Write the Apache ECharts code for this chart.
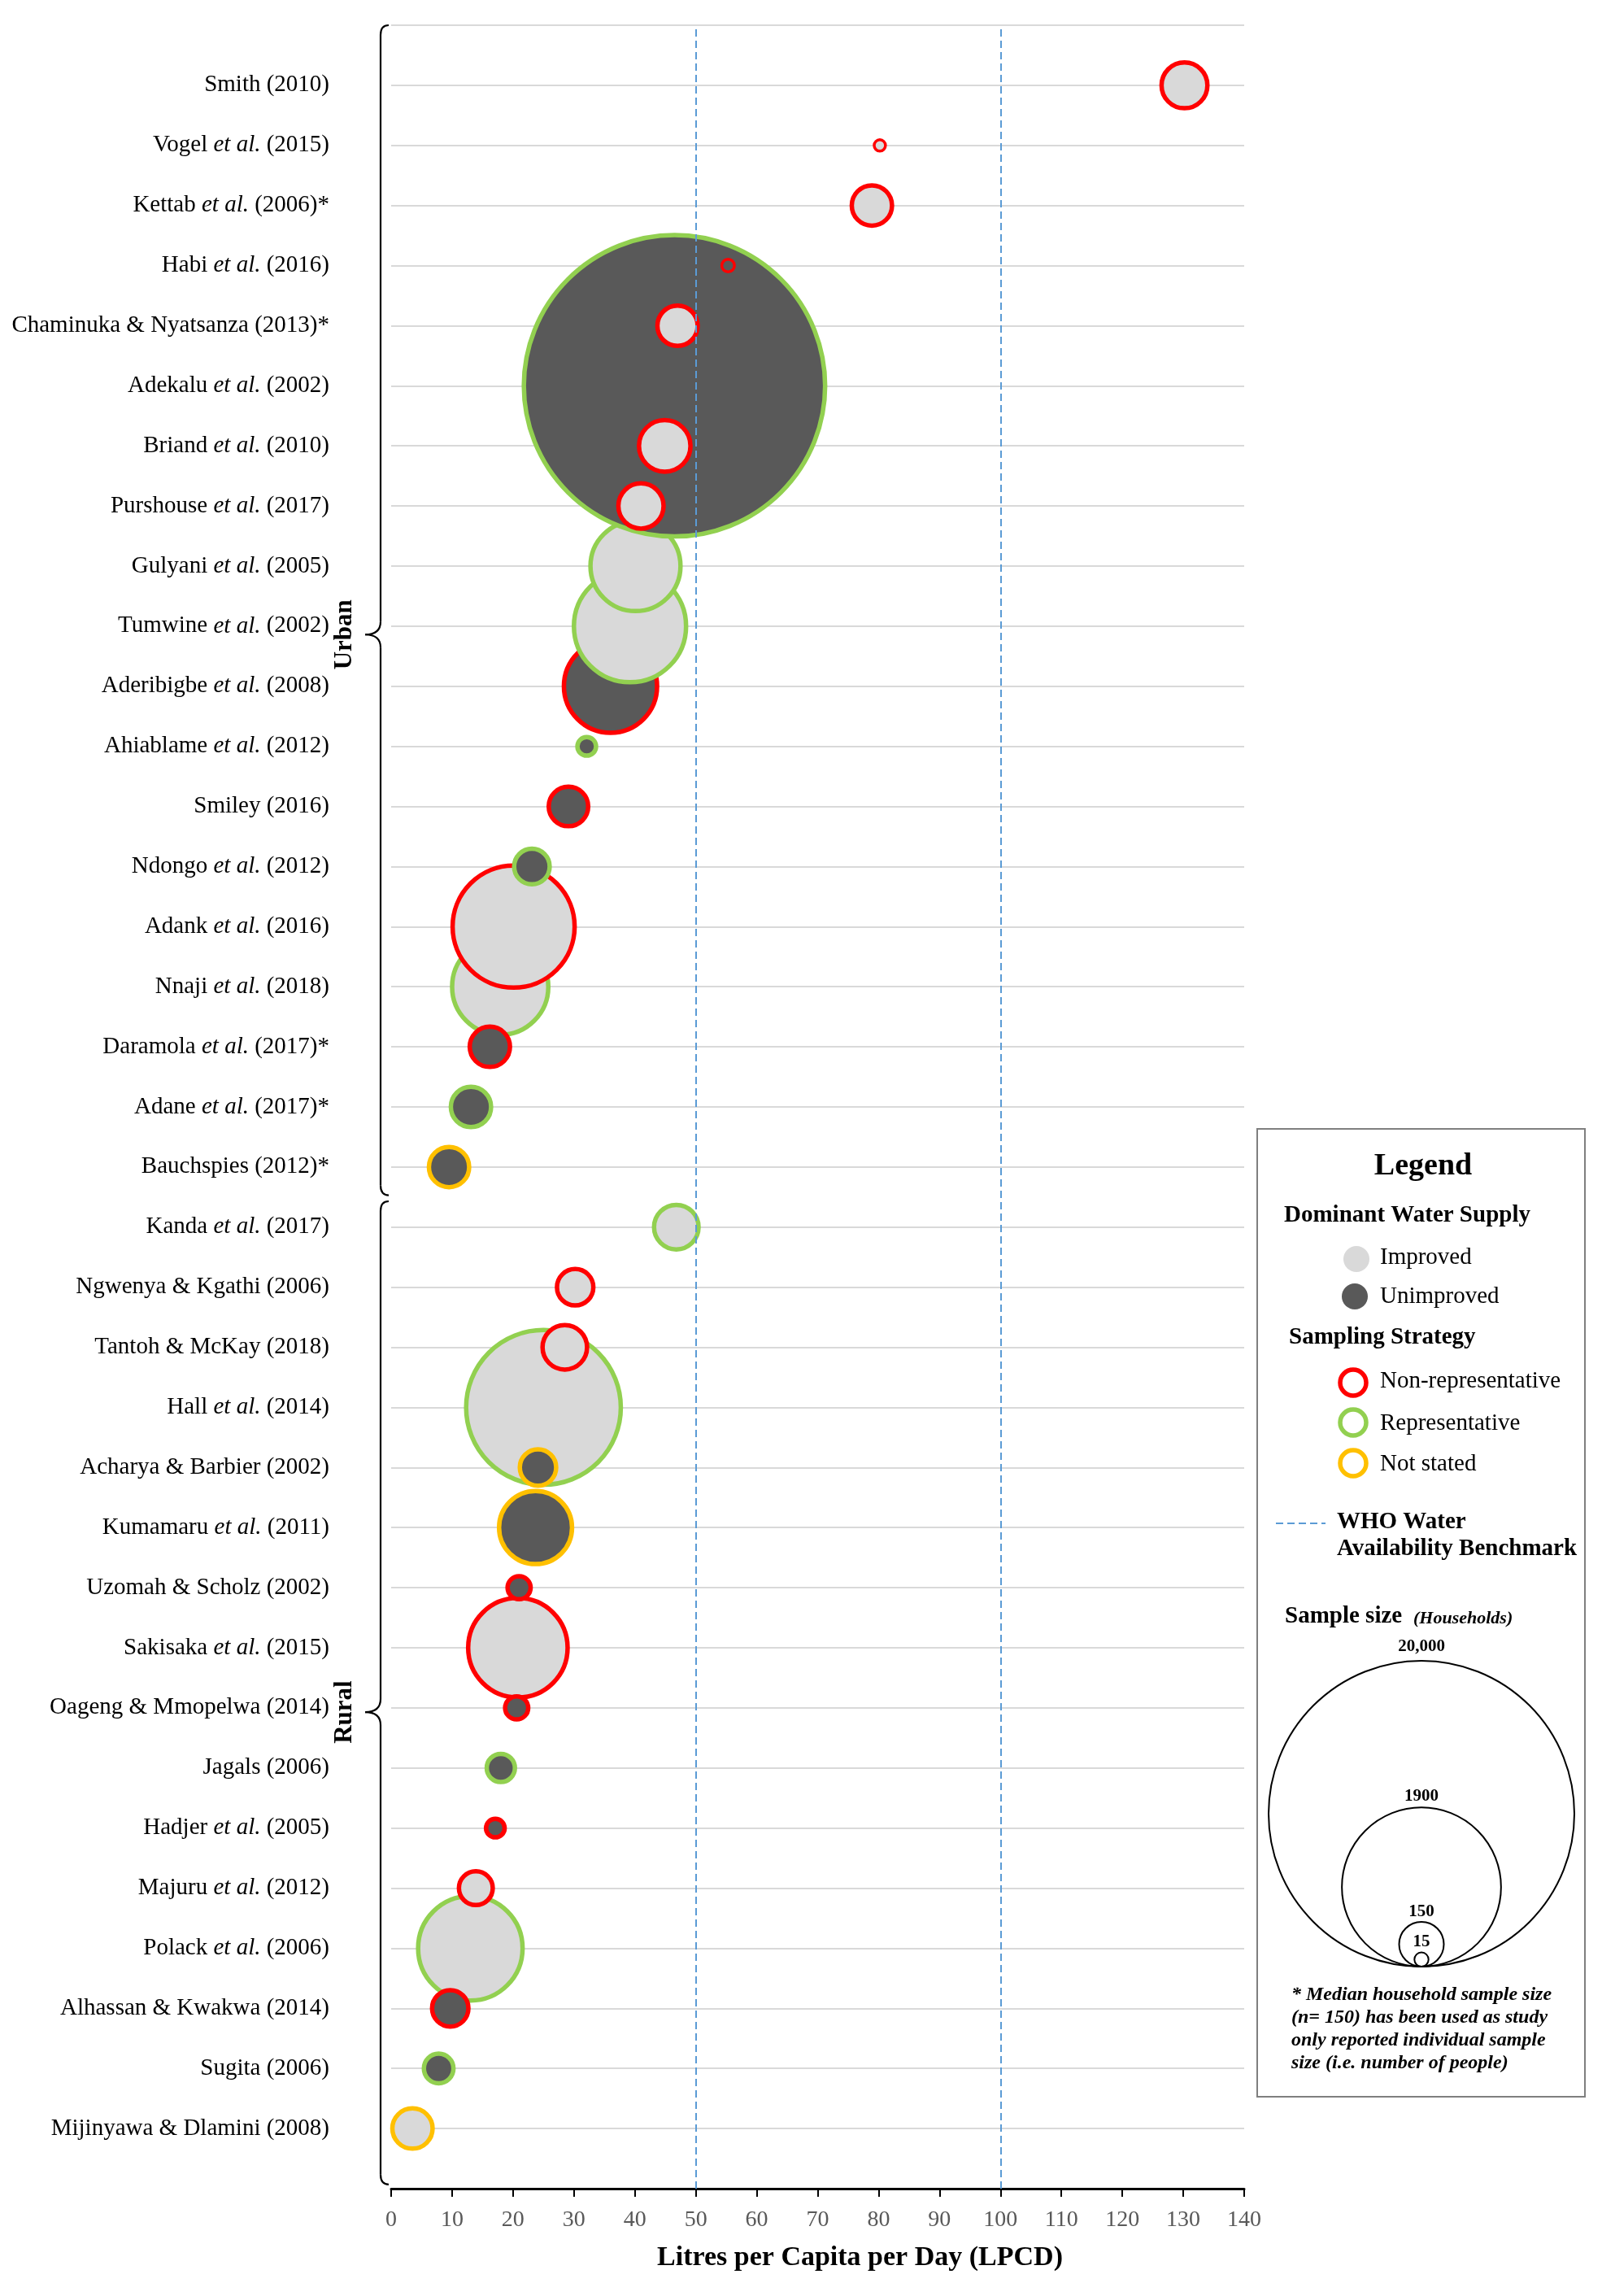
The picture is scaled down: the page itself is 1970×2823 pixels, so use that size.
<!DOCTYPE html>
<html>
<head>
<meta charset="utf-8">
<script src="https://cdn.jsdelivr.net/npm/echarts@6/dist/echarts.min.js"></script>
<style>
  html, body { margin: 0; padding: 0; background: #fff; }
  #chart { width: 1970px; height: 2823px; }
</style>
</head>
<body>
<div id="chart"></div>
<script>
// Studies, top of the chart to bottom
const studies = [
  'Smith (2010)', 'Vogel et al. (2015)', 'Kettab et al. (2006)*', 'Habi et al. (2016)',
  'Chaminuka & Nyatsanza (2013)*', 'Adekalu et al. (2002)', 'Briand et al. (2010)',
  'Purshouse et al. (2017)', 'Gulyani et al. (2005)', 'Tumwine et al. (2002)',
  'Aderibigbe et al. (2008)', 'Ahiablame et al. (2012)', 'Smiley (2016)', 'Ndongo et al. (2012)',
  'Adank et al. (2016)', 'Nnaji et al. (2018)', 'Daramola et al. (2017)*', 'Adane et al. (2017)*',
  'Bauchspies (2012)*', 'Kanda et al. (2017)', 'Ngwenya & Kgathi (2006)', 'Tantoh & McKay (2018)',
  'Hall et al. (2014)', 'Acharya & Barbier (2002)', 'Kumamaru et al. (2011)', 'Uzomah & Scholz (2002)',
  'Sakisaka et al. (2015)', 'Oageng & Mmopelwa (2014)', 'Jagals (2006)', 'Hadjer et al. (2005)',
  'Majuru et al. (2012)', 'Polack et al. (2006)', 'Alhassan & Kwakwa (2014)', 'Sugita (2006)',
  'Mijinyawa & Dlamini (2008)'
];

// Litres per capita per day
const lpcd = [
  130.2, 80.2, 78.9, 55.3, 47.0, 46.5, 44.9, 41.0, 40.1, 39.2,
  36.0, 32.1, 29.1, 23.1, 20.1, 17.9, 16.2, 13.1, 9.5, 46.8,
  30.2, 28.5, 25.0, 24.1, 23.7, 21.0, 20.8, 20.6, 18.0, 17.1,
  13.9, 13.0, 9.7, 7.8, 3.5
];

// Sample size (households)
const households = [
  190, 15, 150, 18, 150, 20000, 235, 185, 670, 1020,
  715, 40, 145, 120, 1200, 760, 150, 150, 150, 180,
  125, 180, 1900, 125, 450, 57, 810, 57, 80, 40,
  110, 890, 125, 87, 150
];

// Dominant water supply: I = improved, U = unimproved
const supply = [
  'I', 'I', 'I', 'U', 'I', 'U', 'I', 'I', 'I', 'I',
  'U', 'U', 'U', 'U', 'I', 'I', 'U', 'U', 'U', 'I',
  'I', 'I', 'I', 'U', 'U', 'U', 'I', 'U', 'U', 'U',
  'I', 'I', 'U', 'U', 'I'
];

// Sampling strategy: N = non-representative, R = representative, S = not stated
const sampling = [
  'N', 'N', 'N', 'N', 'N', 'R', 'N', 'N', 'R', 'R',
  'N', 'R', 'N', 'R', 'N', 'R', 'N', 'R', 'S', 'R',
  'N', 'N', 'R', 'S', 'S', 'N', 'N', 'N', 'R', 'N',
  'N', 'R', 'N', 'R', 'S'
];

const benchmarks = [50, 100];                 // WHO water availability benchmark
const sizeLegend = [20000, 1900, 150, 15];    // sample size key
const regions = ['Urban', 'Rural'];
const regionSpans = [[36, 16.53, 25.86], [16.43, 0.07, 7.93]]; // top, bottom, brace tip (row units)

const SERIF = "'Liberation Serif', 'DejaVu Serif', serif";
const fills = { I: '#D9D9D9', U: '#595959' };
const rings = { N: '#FF0000', R: '#92D050', S: '#FFC000' };

// bubble area follows household count, the biggest bubble is capped
function bubbleRadius(n) { return Math.min(2.245 * Math.sqrt(n), 188); }
function ringWidth(n) { return n < 30 ? 3.5 : 5.5; }
const rowValue = i => studies.length - i;

// big bubbles go underneath, then rows drawn bottom-up
const order = studies.map((_, i) => i).sort((a, b) => {
  const la = households[a] >= 600 ? 0 : 1;
  const lb = households[b] >= 600 ? 0 : 1;
  return la !== lb ? la - lb : b - a;
});

const bubbles = order.map(i => ({
  name: studies[i],
  value: [lpcd[i], rowValue(i), households[i]],
  symbolSize: 2 * bubbleRadius(households[i]) - ringWidth(households[i]),
  itemStyle: {
    color: fills[supply[i]],
    borderColor: rings[sampling[i]],
    borderWidth: ringWidth(households[i]),
    opacity: 1
  }
}));

const chart = echarts.init(document.getElementById('chart'));

chart.setOption({
  animation: false,
  backgroundColor: '#fff',
  grid: { left: 481, right: 440, top: 31, bottom: 132 },
  xAxis: {
    type: 'value',
    min: 0,
    max: 140,
    interval: 10,
    name: 'Litres per Capita per Day (LPCD)',
    nameLocation: 'middle',
    nameGap: 68,
    nameTextStyle: {
      fontFamily: SERIF, fontSize: 34, fontWeight: 'bold', color: '#000',
      padding: [0, 0, 0, 104]
    },
    splitLine: { show: false },
    axisLine: { lineStyle: { color: '#000', width: 3 } },
    axisTick: { show: true, length: 10, lineStyle: { color: '#000', width: 2 } },
    axisLabel: { margin: 25, fontFamily: SERIF, fontSize: 28, color: '#595959' }
  },
  yAxis: {
    type: 'value',
    min: 0,
    max: 36,
    interval: 1,
    axisLine: { show: false },
    axisTick: { show: false },
    splitLine: { lineStyle: { color: '#D9D9D9', width: 2 } },
    axisLabel: {
      margin: 76,
      fontFamily: SERIF,
      fontSize: 29,
      color: '#000',
      formatter: v => {
        const i = studies.length - v;
        if (v === 0 || i < 0 || i >= studies.length) return '';
        return studies[i].replace('et al.', '{it|et al.}');
      },
      rich: {
        it: { fontFamily: SERIF, fontSize: 29, fontStyle: 'italic', color: '#000' }
      }
    }
  },
  series: [
    {
      name: 'Studies',
      type: 'scatter',
      clip: false,
      data: bubbles,
      markLine: {
        silent: true,
        animation: false,
        symbol: ['none', 'none'],
        label: { show: false },
        lineStyle: { color: '#5B9BD5', width: 2, type: [9, 5] },
        data: benchmarks.map(v => ({ xAxis: v }))
      }
    }
  ]
});

// ---- braces for Urban / Rural ----
const px = (x, y) => chart.convertToPixel({ gridIndex: 0 }, [x, y]);
const graphics = [];
const x0 = px(0, 0)[0] - 13;
const xTip = x0 - 19;
const braceStyle = { fill: 'none', stroke: '#000', lineWidth: 2.2 };

function curve(x1, y1, cx, cy, x2, y2) {
  return {
    type: 'bezierCurve', silent: true,
    shape: { x1: x1, y1: y1, cpx1: cx, cpy1: cy, x2: x2, y2: y2 },
    style: braceStyle
  };
}
function seg(x1, y1, x2, y2) {
  return { type: 'line', silent: true, shape: { x1: x1, y1: y1, x2: x2, y2: y2 }, style: braceStyle };
}

regions.forEach((name, k) => {
  const [top, bottom, tip] = regionSpans[k];
  const yT = px(0, top)[1], yB = px(0, bottom)[1], yM = px(0, tip)[1];
  graphics.push(curve(x0 + 10, yT, x0, yT, x0, yT + 12));
  graphics.push(seg(x0, yT + 12, x0, yM - 16));
  graphics.push(curve(x0, yM - 16, x0, yM, xTip, yM));
  graphics.push(curve(xTip, yM, x0, yM, x0, yM + 16));
  graphics.push(seg(x0, yM + 16, x0, yB - 12));
  graphics.push(curve(x0, yB - 12, x0, yB, x0 + 10, yB));
  graphics.push({
    type: 'text', silent: true,
    x: 424, y: yM, rotation: Math.PI / 2,
    style: {
      text: name, fill: '#000', fontFamily: SERIF, fontSize: 31, fontWeight: 'bold',
      align: 'center', verticalAlign: 'middle', textAlign: 'center', textVerticalAlign: 'middle'
    }
  });
});

// ---- legend box ----
function txt(text, x, y, size, weight, style, align) {
  return {
    type: 'text', silent: true, x: x, y: y,
    style: {
      text: text, fill: '#000', fontFamily: SERIF, fontSize: size,
      fontWeight: weight || 'normal', fontStyle: style || 'normal',
      align: align || 'left', verticalAlign: 'middle',
      textAlign: align || 'left', textVerticalAlign: 'middle'
    }
  };
}
function dot(cx, cy, r, fill, stroke, lw) {
  return {
    type: 'circle', silent: true,
    shape: { cx: cx, cy: cy, r: r },
    style: { fill: fill, stroke: stroke || null, lineWidth: lw || 0 }
  };
}

graphics.push({
  type: 'rect', silent: true,
  shape: { x: 1546, y: 1388, width: 403, height: 1190 },
  style: { fill: '#fff', stroke: '#7F7F7F', lineWidth: 2 }
});
graphics.push(txt('Legend', 1750, 1434, 38, 'bold', null, 'center'));
graphics.push(txt('Dominant Water Supply', 1579, 1495, 29, 'bold'));
graphics.push(dot(1668, 1548, 16, fills.I));
graphics.push(txt('Improved', 1697, 1546, 29));
graphics.push(dot(1666, 1594, 16, fills.U));
graphics.push(txt('Unimproved', 1697, 1594, 29));
graphics.push(txt('Sampling Strategy', 1585, 1645, 29, 'bold'));
graphics.push(dot(1664, 1700, 16, 'none', rings.N, 5.5));
graphics.push(txt('Non-representative', 1697, 1698, 29));
graphics.push(dot(1664, 1749, 16, 'none', rings.R, 5.5));
graphics.push(txt('Representative', 1697, 1750, 29));
graphics.push(dot(1664, 1799, 16, 'none', rings.S, 5.5));
graphics.push(txt('Not stated', 1697, 1800, 29));
graphics.push(seg(1569, 1873, 1630, 1873));
graphics[graphics.length - 1].style = { stroke: '#5B9BD5', lineWidth: 2, lineDash: [9, 5] };
graphics.push(txt('WHO Water', 1644, 1872, 29, 'bold'));
graphics.push(txt('Availability Benchmark', 1644, 1905, 29, 'bold'));
graphics.push(txt('Sample size', 1580, 1988, 29, 'bold'));
graphics.push(txt('(Households)', 1738, 1990, 22, 'bold', 'italic'));

// sample size key: circles sitting on a common base line
const keyBase = 2418, keyX = 1748;
const keyLabelY = [2025, 2209, 2351, 2388];
sizeLegend.forEach((n, k) => {
  const r = bubbleRadius(n);
  graphics.push(dot(keyX, keyBase - r, r, 'none', '#000', 2));
  graphics.push(txt(n >= 10000 ? n.toLocaleString('en-US') : String(n), keyX, keyLabelY[k], 21, 'bold', null, 'center'));
});

const notes = [
  '* Median household sample size',
  '(n= 150) has been used as study',
  'only reported individual sample',
  'size (i.e. number of people)'
];
notes.forEach((line, k) => {
  graphics.push(txt(line, 1588, 2453 + k * 28, 24, 'bold', 'italic'));
});

chart.setOption({ graphic: graphics });
</script>
</body>
</html>
